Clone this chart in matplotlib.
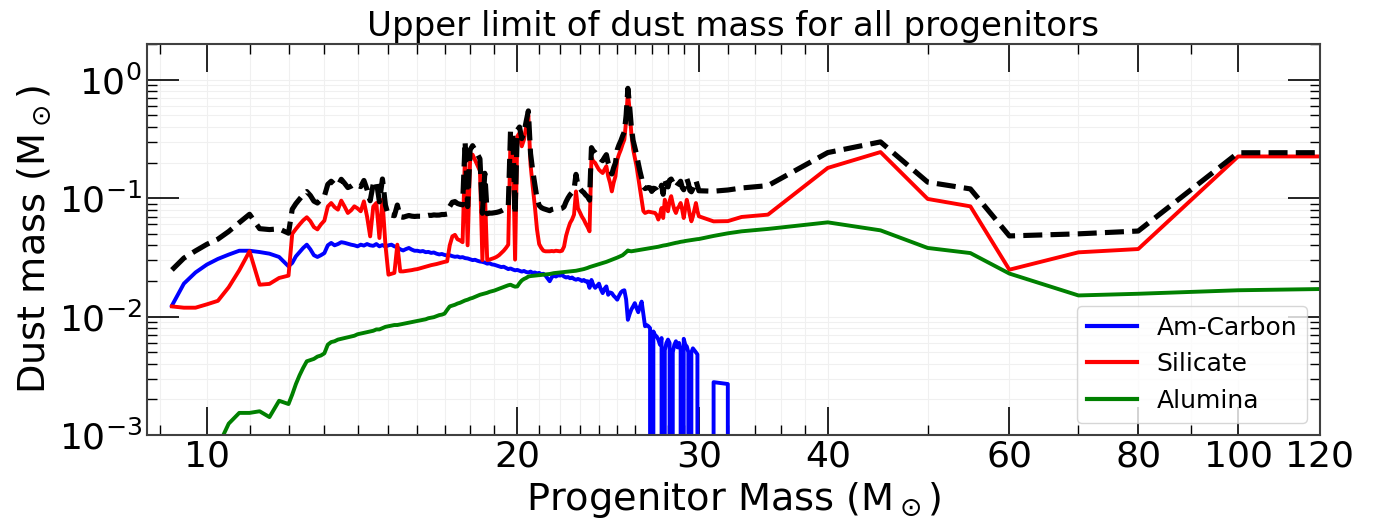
import numpy as np
import matplotlib
matplotlib.use('Agg')
from matplotlib import pyplot as plt
from matplotlib.ticker import NullFormatter

# progenitor masses (Msun): 9.25-11.75 step 0.25, 12.0-30.0 step 0.1, then coarse grid
mass = [9.25, 9.5, 9.75, 10.0, 10.25, 10.5, 10.75, 11.0, 11.25, 11.5, 11.75,
        12.0, 12.1, 12.2, 12.3, 12.4, 12.5, 12.6, 12.7, 12.8, 12.9,
        13.0, 13.1, 13.2, 13.3, 13.4, 13.5, 13.6, 13.7, 13.8, 13.9,
        14.0, 14.1, 14.2, 14.3, 14.4, 14.5, 14.6, 14.7, 14.8, 14.9,
        15.0, 15.1, 15.2, 15.3, 15.4, 15.5, 15.6, 15.7, 15.8, 15.9,
        16.0, 16.1, 16.2, 16.3, 16.4, 16.5, 16.6, 16.7, 16.8, 16.9,
        17.0, 17.1, 17.2, 17.3, 17.4, 17.5, 17.6, 17.7, 17.8, 17.9,
        18.0, 18.1, 18.2, 18.3, 18.4, 18.5, 18.6, 18.7, 18.8, 18.9,
        19.0, 19.1, 19.2, 19.3, 19.4, 19.5, 19.6, 19.7, 19.8, 19.9,
        20.0, 20.1, 20.2, 20.3, 20.4, 20.5, 20.6, 20.7, 20.8, 20.9,
        21.0, 21.1, 21.2, 21.3, 21.4, 21.5, 21.6, 21.7, 21.8, 21.9,
        22.0, 22.1, 22.2, 22.3, 22.4, 22.5, 22.6, 22.7, 22.8, 22.9,
        23.0, 23.1, 23.2, 23.3, 23.4, 23.5, 23.6, 23.7, 23.8, 23.9,
        24.0, 24.1, 24.2, 24.3, 24.4, 24.5, 24.6, 24.7, 24.8, 24.9,
        25.0, 25.1, 25.2, 25.3, 25.4, 25.5, 25.6, 25.7, 25.8, 25.9,
        26.0, 26.1, 26.2, 26.3, 26.4, 26.5, 26.6, 26.7, 26.8, 26.9,
        27.0, 27.1, 27.2, 27.3, 27.4, 27.5, 27.6, 27.7, 27.8, 27.9,
        28.0, 28.1, 28.2, 28.3, 28.4, 28.5, 28.6, 28.7, 28.8, 28.9,
        29.0, 29.1, 29.2, 29.3, 29.4, 29.5, 29.6, 29.7, 29.8, 29.9,
        30.0,
        31, 32, 33, 35, 40, 45, 50, 55, 60, 70, 80, 100, 120]

# amorphous carbon dust mass (Msun)
carbon = [0.0124, 0.0190, 0.0236, 0.0275, 0.0307, 0.0334, 0.0360, 0.0360, 0.0351, 0.0340, 0.0319,
          0.0266, 0.0284, 0.0323, 0.0350, 0.0380, 0.0405, 0.0370, 0.0330, 0.0319, 0.0330,
          0.0344, 0.0400, 0.0419, 0.0400, 0.0410, 0.0425, 0.0420, 0.0412, 0.0405, 0.0400,
          0.0392, 0.0405, 0.0398, 0.0410, 0.0400, 0.0396, 0.0410, 0.0392, 0.0402, 0.0390,
          0.0400, 0.0405, 0.0392, 0.0385, 0.0370, 0.0362, 0.0372, 0.0380, 0.0368, 0.0360,
          0.0360, 0.0355, 0.0358, 0.0350, 0.0352, 0.0345, 0.0348, 0.0340, 0.0335, 0.0338,
          0.0332, 0.0328, 0.0330, 0.0324, 0.0320, 0.0322, 0.0316, 0.0318, 0.0312, 0.0310,
          0.0305, 0.0300, 0.0302, 0.0296, 0.0292, 0.0290, 0.0286, 0.0280, 0.0282, 0.0276,
          0.0274, 0.0270, 0.0266, 0.0262, 0.0264, 0.0258, 0.0252, 0.0255, 0.0250, 0.0246,
          0.0248, 0.0244, 0.0240, 0.0243, 0.0238, 0.0236, 0.0240, 0.0234, 0.0236, 0.0232,
          0.0234, 0.0228, 0.0230, 0.0222, 0.0210, 0.0199, 0.0215, 0.0222, 0.0218, 0.0224,
          0.0222, 0.0225, 0.0218, 0.0214, 0.0216, 0.0211, 0.0214, 0.0208, 0.0205, 0.0208,
          0.0205, 0.0200, 0.0204, 0.0198, 0.0199, 0.0175, 0.0204, 0.0185, 0.0175, 0.0182,
          0.0190, 0.0170, 0.0158, 0.0172, 0.0180, 0.0153, 0.0160, 0.0158, 0.0150, 0.0145,
          0.0139, 0.0150, 0.0160, 0.0165, 0.0167, 0.0140, 0.0094, 0.0105, 0.0115, 0.0122,
          0.0130, 0.0118, 0.0109, 0.0122, 0.0134, 0.0105, 0.0083, 0.0085, 0.0083, 0.0080,
          0.0, 0.0075, 0.0070, 0.0068, 0.0064, 0.0058, 0.0066, 0.0, 0.0052, 0.0060,
          0.0064, 0.0060, 0.0, 0.0050, 0.0058, 0.0062, 0.0055, 0.0060, 0.0052, 0.0,
          0.0065, 0.0058, 0.0056, 0.0050, 0.0, 0.0050, 0.0054, 0.0052, 0.0050, 0.0048,
          0.0,
          0.0028, 0.0027, 0.0, 0.0, 0.0, 0.0, 0.0, 0.0, 0.0, 0.0, 0.0, 0.0, 0.0]

# silicate dust mass (Msun)
silicate = [0.0122, 0.0119, 0.0119, 0.0127, 0.0136, 0.0177, 0.0246, 0.0356, 0.0186, 0.0189, 0.0212,
            0.0222, 0.0500, 0.0550, 0.0600, 0.0650, 0.0690, 0.0640, 0.0570, 0.0545, 0.0600,
            0.0646, 0.0850, 0.0910, 0.0840, 0.0800, 0.0953, 0.0850, 0.0750, 0.0790, 0.0853,
            0.0820, 0.0775, 0.0940, 0.0700, 0.0476, 0.0850, 0.0910, 0.0461, 0.0970, 0.0400,
            0.0226, 0.0230, 0.0234, 0.0405, 0.0241, 0.0241, 0.0243, 0.0245, 0.0247, 0.0250,
            0.0252, 0.0256, 0.0260, 0.0264, 0.0268, 0.0272, 0.0275, 0.0278, 0.0282, 0.0286,
            0.0290, 0.0293, 0.0400, 0.0476, 0.0490, 0.0450, 0.0440, 0.0425, 0.2570, 0.0400,
            0.2110, 0.2330, 0.2100, 0.1900, 0.1700, 0.0300, 0.1180, 0.0300, 0.0303, 0.0308,
            0.0313, 0.0320, 0.0330, 0.0345, 0.0360, 0.0380, 0.0405, 0.3320, 0.3120, 0.0303,
            0.3320, 0.3550, 0.2740, 0.3120, 0.4000, 0.5000, 0.1920, 0.1250, 0.0853, 0.0542,
            0.0410, 0.0380, 0.0360, 0.0356, 0.0356, 0.0356, 0.0358, 0.0356, 0.0360, 0.0358,
            0.0356, 0.0360, 0.0390, 0.0480, 0.0550, 0.0617, 0.0660, 0.0726, 0.1140, 0.0820,
            0.0760, 0.0700, 0.0660, 0.0610, 0.0570, 0.0525, 0.2200, 0.2050, 0.1980, 0.1850,
            0.1740, 0.1680, 0.1630, 0.1750, 0.1860, 0.1530, 0.1350, 0.1140, 0.1350, 0.1530,
            0.2110, 0.2350, 0.2560, 0.2850, 0.3120, 0.4500, 0.8000, 0.5500, 0.3500, 0.2600,
            0.2200, 0.1860, 0.1500, 0.1200, 0.0970, 0.0780, 0.0750, 0.0760, 0.0770, 0.0765,
            0.0760, 0.0755, 0.0750, 0.0720, 0.0660, 0.0720, 0.0826, 0.0680, 0.0970, 0.0850,
            0.0775, 0.0950, 0.1040, 0.0900, 0.0800, 0.0750, 0.0820, 0.0853, 0.0910, 0.0800,
            0.0680, 0.0820, 0.0970, 0.0850, 0.0720, 0.0638, 0.0700, 0.0800, 0.0910, 0.0780,
            0.0703,
            0.0637, 0.0640, 0.0694, 0.0726, 0.180, 0.245, 0.0985, 0.0853, 0.0249, 0.0349, 0.0372, 0.225, 0.225]

# alumina dust mass (Msun)
alumina = [0.0002, 0.0003, 0.0004, 0.0006, 0.0008, 0.00125, 0.00154, 0.00154, 0.00159, 0.00142, 0.00195,
           0.00183, 0.0022, 0.0027, 0.0032, 0.0037, 0.0042, 0.0043, 0.0044, 0.0046, 0.0047,
           0.0049, 0.0058, 0.0061, 0.0062, 0.0064, 0.0065, 0.0066, 0.0067, 0.0068, 0.0069,
           0.0071, 0.0072, 0.0073, 0.0074, 0.0075, 0.0076, 0.0078, 0.0078, 0.0080, 0.0082,
           0.0083, 0.0084, 0.0085, 0.0085, 0.0086, 0.0087, 0.0088, 0.0089, 0.0090, 0.0091,
           0.0092, 0.0093, 0.0094, 0.0095, 0.0097, 0.0098, 0.0099, 0.0101, 0.0103, 0.0104,
           0.0106, 0.0114, 0.0122, 0.0124, 0.0126, 0.0129, 0.0131, 0.0134, 0.0137, 0.0139,
           0.0142, 0.0144, 0.0147, 0.0150, 0.0153, 0.0155, 0.0157, 0.0159, 0.0162, 0.0164,
           0.0166, 0.0169, 0.0172, 0.0175, 0.0178, 0.0181, 0.0184, 0.0186, 0.0182, 0.0179,
           0.0180, 0.0192, 0.0202, 0.0208, 0.0212, 0.0218, 0.0220, 0.0221, 0.0222, 0.0223,
           0.0224, 0.0225, 0.0226, 0.0227, 0.0228, 0.0229, 0.0231, 0.0233, 0.0234, 0.0235,
           0.0236, 0.0237, 0.0238, 0.0239, 0.0240, 0.0241, 0.0242, 0.0243, 0.0244, 0.0246,
           0.0248, 0.0250, 0.0252, 0.0255, 0.0258, 0.0262, 0.0265, 0.0268, 0.0271, 0.0274,
           0.0277, 0.0280, 0.0283, 0.0286, 0.0290, 0.0294, 0.0298, 0.0302, 0.0306, 0.0310,
           0.0315, 0.0320, 0.0325, 0.0330, 0.0340, 0.0350, 0.0362, 0.0358, 0.0356, 0.0358,
           0.0360, 0.0362, 0.0364, 0.0366, 0.0368, 0.0370, 0.0372, 0.0374, 0.0376, 0.0378,
           0.0380, 0.0382, 0.0384, 0.0386, 0.0389, 0.0392, 0.0395, 0.0398, 0.0400, 0.0402,
           0.0405, 0.0408, 0.0411, 0.0414, 0.0417, 0.0420, 0.0422, 0.0425, 0.0428, 0.0430,
           0.0432, 0.0435, 0.0437, 0.0439, 0.0441, 0.0443, 0.0445, 0.0447, 0.0449, 0.0451,
           0.0452,
           0.0480, 0.0505, 0.0525, 0.0550, 0.0625, 0.0535, 0.0380, 0.0344, 0.0231, 0.0151, 0.0156, 0.0167, 0.0171]

xtick_major = [10, 20, 30, 40, 60, 80, 100, 120]
xtick_minor = [9, 11, 12, 13, 14, 15, 16, 17, 18, 19,
               21, 22, 23, 24, 25, 26, 27, 28, 29, 32, 34, 36, 38, 50, 70, 90]

# upper limit = sum of all species
total = np.array(carbon) + np.array(silicate) + np.array(alumina)

fig, ax = plt.subplots(figsize=(13.82, 5.18), dpi=100)
fig.subplots_adjust(left=0.1064, right=0.955, bottom=0.160, top=0.915)

ax.plot(mass, carbon, color='blue', lw=2.8, label='Am-Carbon')
ax.plot(mass, silicate, color='red', lw=2.8, label='Silicate')
ax.plot(mass, alumina, color='green', lw=2.8, label='Alumina')
ax.plot(mass, total, color='black', lw=3.7, ls='--')

ax.set_xscale('log')
ax.set_yscale('log')
ax.set_xlim(8.75, 120)
ax.set_ylim(1e-3, 2)

ax.set_xticks(xtick_major)
ax.set_xticklabels([str(t) for t in xtick_major])
ax.set_xticks(xtick_minor, minor=True)
ax.xaxis.set_minor_formatter(NullFormatter())

ax.tick_params(which='both', direction='in', top=True, right=True, colors='black')
ax.tick_params(axis='x', which='major', length=20, width=1.2, labelsize=26)
ax.tick_params(axis='y', which='major', length=23, width=1.2, labelsize=26)
ax.tick_params(which='minor', length=7, width=1.0)

ax.grid(True, which='both', color='0.94', lw=0.8)
for sp in ax.spines.values():
    sp.set_color('0.25')
    sp.set_linewidth(1.5)

ax.set_xlabel(r'Progenitor Mass (M$_\odot$)', fontsize=27.5)
ax.set_ylabel(r'Dust mass (M$_\odot$)', fontsize=27.5)
ax.set_title('Upper limit of dust mass for all progenitors', fontsize=24.5)

leg = ax.legend(loc='lower right', fontsize=18)
for line in leg.get_lines():
    line.set_linewidth(3)

plt.savefig('out.png', dpi=100)
